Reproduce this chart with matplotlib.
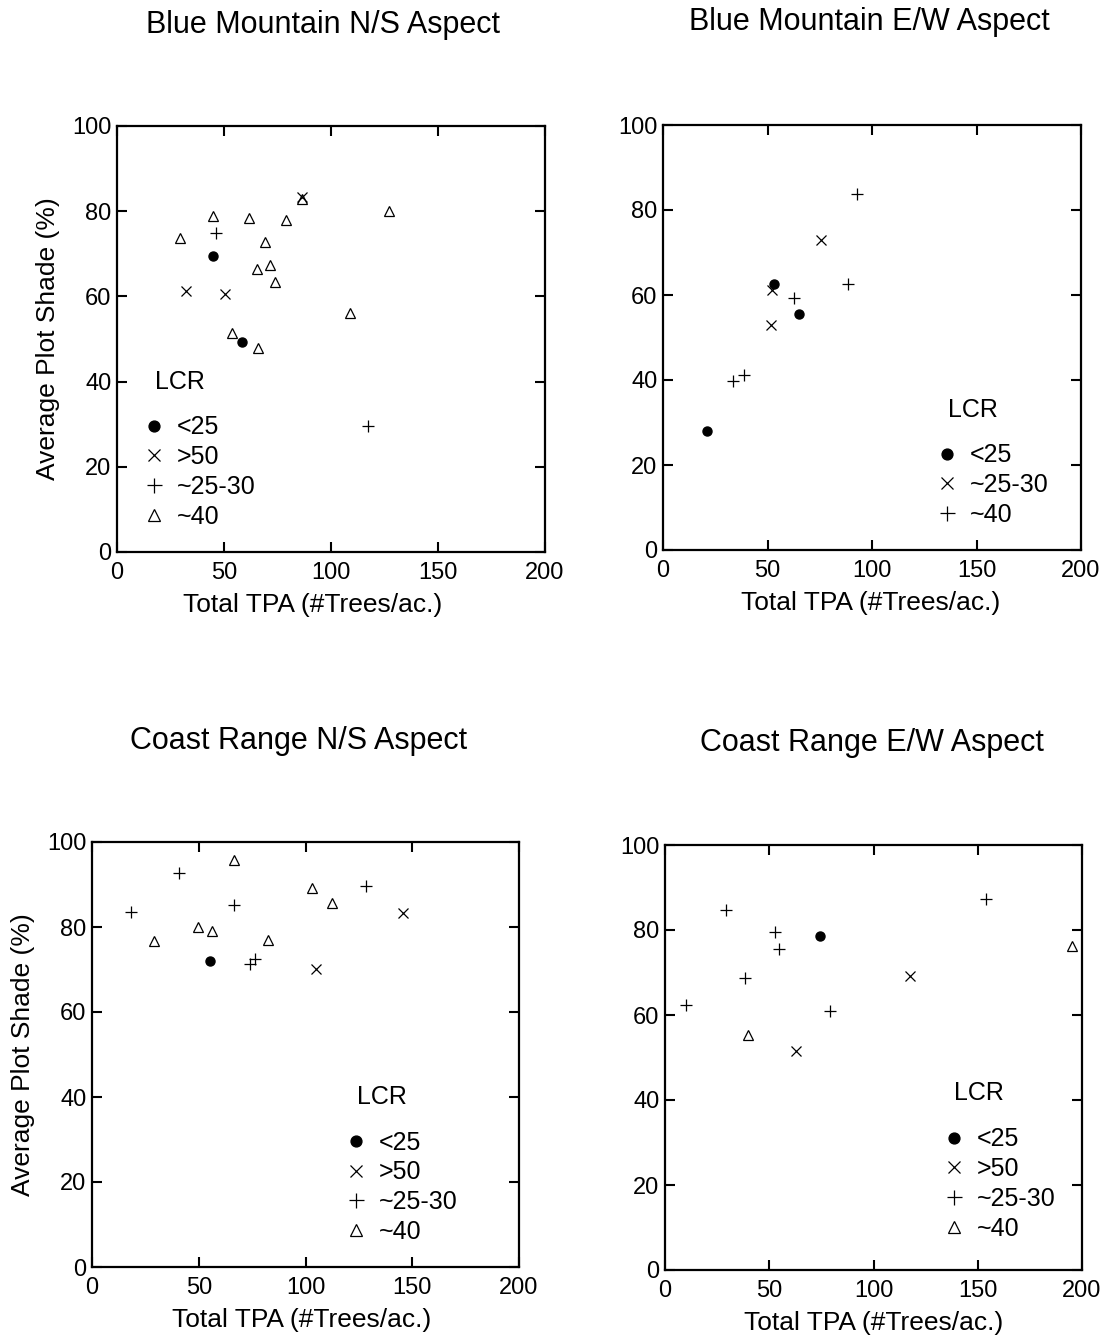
import matplotlib
matplotlib.use("Agg")
import matplotlib.pyplot as plt
from matplotlib.lines import Line2D

plt.rcParams['font.family'] = ['Liberation Sans', 'DejaVu Sans']

# ---- Blue Mountain N/S ----
bm_ns_lt25_x = [44.7, 58.5]
bm_ns_lt25_y = [69.5, 49.2]
bm_ns_gt50_x = [86.4, 32.1, 50.4]
bm_ns_gt50_y = [83.4, 61.3, 60.5]
bm_ns_2530_x = [46.3, 117.4]
bm_ns_2530_y = [74.9, 29.5]
bm_ns_40_x = [44.9, 61.7, 79.0, 86.5, 126.9, 29.6, 69.2, 65.2, 71.4, 74.0, 108.7, 53.9, 66.1]
bm_ns_40_y = [78.8, 78.4, 78.0, 82.8, 80.0, 73.6, 72.7, 66.4, 67.3, 63.4, 56.0, 51.4, 47.9]

# ---- Blue Mountain E/W ----
bm_ew_lt25_x = [52.9, 65.3, 21.0]
bm_ew_lt25_y = [62.6, 55.6, 28.0]
bm_ew_2530_x = [52.3, 51.8, 75.4]
bm_ew_2530_y = [61.1, 53.0, 72.9]
bm_ew_40_x = [92.8, 88.3, 62.9, 33.6, 38.8]
bm_ew_40_y = [83.8, 62.5, 59.2, 39.8, 41.1]

# ---- Coast Range N/S ----
cr_ns_lt25_x = [55.4]
cr_ns_lt25_y = [72.1]
cr_ns_gt50_x = [145.5, 104.9]
cr_ns_gt50_y = [83.4, 70.1]
cr_ns_2530_x = [40.9, 18.3, 66.4, 128.3, 74.0, 76.5]
cr_ns_2530_y = [92.7, 83.5, 85.1, 89.6, 71.3, 72.5]
cr_ns_40_x = [66.7, 28.9, 49.6, 56.2, 82.4, 103.2, 112.6]
cr_ns_40_y = [95.8, 76.6, 79.9, 79.1, 76.9, 89.2, 85.7]

# ---- Coast Range E/W ----
cr_ew_lt25_x = [74.5]
cr_ew_lt25_y = [78.7]
cr_ew_gt50_x = [117.5, 63.0]
cr_ew_gt50_y = [69.1, 51.5]
cr_ew_2530_x = [29.1, 52.8, 54.5, 38.6, 10.3, 79.2, 154.1]
cr_ew_2530_y = [84.6, 79.5, 75.5, 68.7, 62.3, 60.9, 87.3]
cr_ew_40_x = [39.8, 195.0]
cr_ew_40_y = [55.3, 76.3]

x_ticks = [0, 50, 100, 150, 200]
y_ticks = [0, 20, 40, 60, 80, 100]
x_label = "Total TPA (#Trees/ac.)"
y_label = "Average Plot Shade (%)"

W, H = 1119, 1342
fig = plt.figure(figsize=(W / 100, H / 100), dpi=100)

STYLE = {
    'dot': dict(marker='o', color='black', markersize=6.5, linestyle='none'),
    'x': dict(marker='x', color='black', markersize=7, markeredgewidth=0.9, linestyle='none'),
    'plus': dict(marker='+', color='black', markersize=9, markeredgewidth=0.9, linestyle='none'),
    'tri': dict(marker='^', markerfacecolor='none', markeredgecolor='black',
                markersize=7.5, markeredgewidth=0.9, linestyle='none'),
}


def make_axes(l, r, t, b):
    return fig.add_axes([l / W, 1 - b / H, (r - l) / W, (b - t) / H])


def style_axes(ax, xlab_x, ylab):
    ax.set_xlim(0, 200)
    ax.set_ylim(0, 100)
    ax.set_xticks(x_ticks)
    ax.set_yticks(y_ticks)
    ax.tick_params(direction='in', top=True, right=True, length=7, width=1.5,
                   labelsize=17, pad=4)
    ax.tick_params(axis='x', pad=7)
    for s in ax.spines.values():
        s.set_linewidth(1.6)
    ax.set_xlabel(x_label, fontsize=19)
    ax.xaxis.set_label_coords(xlab_x, -0.097)
    if ylab:
        ax.set_ylabel(y_label, fontsize=19)
        ax.yaxis.set_label_coords(-0.133, 0.5)


def add_legend(ax, entries, lcr_xy, anchor):
    handles = [Line2D([], [], **STYLE[k]) for k, _ in entries]
    labels = [lab for _, lab in entries]
    ax.text(lcr_xy[0], lcr_xy[1], "LCR", transform=ax.transAxes, fontsize=18,
            ha='left', va='center')
    ax.legend(handles, labels, loc='upper left', bbox_to_anchor=anchor,
              frameon=False, fontsize=18, handlelength=0.9, handletextpad=0.45,
              labelspacing=0.23, borderpad=0, borderaxespad=0, markerscale=1.2)


# Blue Mountain N/S
ax1 = make_axes(117, 545, 126, 552)
ax1.plot(bm_ns_lt25_x, bm_ns_lt25_y, **STYLE['dot'])
ax1.plot(bm_ns_gt50_x, bm_ns_gt50_y, **STYLE['x'])
ax1.plot(bm_ns_2530_x, bm_ns_2530_y, **STYLE['plus'])
ax1.plot(bm_ns_40_x, bm_ns_40_y, **STYLE['tri'])
style_axes(ax1, 0.458, True)
add_legend(ax1, [('dot', '<25'), ('x', '>50'), ('plus', '~25-30'), ('tri', '~40')],
           (0.089, 0.40), (0.060, 0.321))
fig.text(323 / W, 1 - 25 / H, "Blue Mountain N/S Aspect", fontsize=22, ha='center', va='center')

# Blue Mountain E/W
ax2 = make_axes(663, 1081, 125, 550)
ax2.plot(bm_ew_lt25_x, bm_ew_lt25_y, **STYLE['dot'])
ax2.plot(bm_ew_2530_x, bm_ew_2530_y, **STYLE['x'])
ax2.plot(bm_ew_40_x, bm_ew_40_y, **STYLE['plus'])
style_axes(ax2, 0.497, False)
add_legend(ax2, [('dot', '<25'), ('x', '~25-30'), ('plus', '~40')],
           (0.682, 0.329), (0.6525, 0.251))
fig.text(869 / W, 1 - 22 / H, "Blue Mountain E/W Aspect", fontsize=22, ha='center', va='center')

# Coast Range N/S
ax3 = make_axes(92, 519, 842, 1267)
ax3.plot(cr_ns_lt25_x, cr_ns_lt25_y, **STYLE['dot'])
ax3.plot(cr_ns_gt50_x, cr_ns_gt50_y, **STYLE['x'])
ax3.plot(cr_ns_2530_x, cr_ns_2530_y, **STYLE['plus'])
ax3.plot(cr_ns_40_x, cr_ns_40_y, **STYLE['tri'])
style_axes(ax3, 0.49, True)
add_legend(ax3, [('dot', '<25'), ('x', '>50'), ('plus', '~25-30'), ('tri', '~40')],
           (0.621, 0.40), (0.592, 0.321))
fig.text(299 / W, 1 - 741 / H, "Coast Range N/S Aspect", fontsize=22, ha='center', va='center')

# Coast Range E/W
ax4 = make_axes(665, 1082, 845, 1270)
ax4.plot(cr_ew_lt25_x, cr_ew_lt25_y, **STYLE['dot'])
ax4.plot(cr_ew_gt50_x, cr_ew_gt50_y, **STYLE['x'])
ax4.plot(cr_ew_2530_x, cr_ew_2530_y, **STYLE['plus'])
ax4.plot(cr_ew_40_x, cr_ew_40_y, **STYLE['tri'])
style_axes(ax4, 0.50, False)
add_legend(ax4, [('dot', '<25'), ('x', '>50'), ('plus', '~25-30'), ('tri', '~40')],
           (0.693, 0.416), (0.666, 0.3355))
fig.text(872 / W, 1 - 743 / H, "Coast Range E/W Aspect", fontsize=22, ha='center', va='center')

fig.savefig("out.png", dpi=100)
